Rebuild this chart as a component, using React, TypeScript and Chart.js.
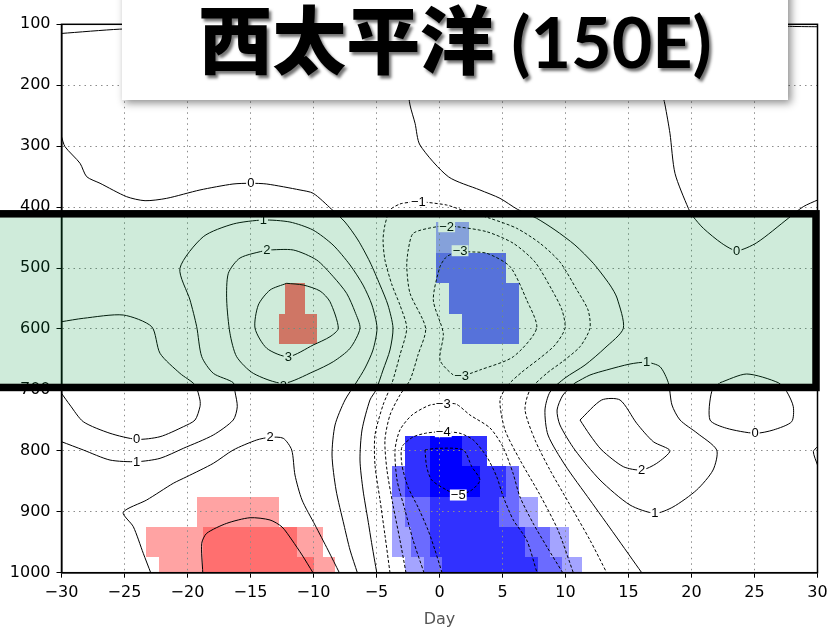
import React, { useEffect, useRef } from 'react';
import { Chart, registerables } from 'chart.js';

Chart.register(...registerables);

type Pt = [number, number];
type Cell = [number, number, number, number, number];

// ---------- axes ----------
const xTickValues = [-30, -25, -20, -15, -10, -5, 0, 5, 10, 15, 20, 25, 30];
const yTickValues = [100, 200, 300, 400, 500, 600, 700, 800, 900, 1000];
const xTitle = 'Day';
const titleCJK = '西太平洋';
const titleLatin = ' (150E)';

// ---------- contour lines (day, hPa) ----------
const cTopLeft: Pt[] = [[-30, 115], [-25.4, 108], [-20, 104.5], [-16, 102], [-12, 100.5], [-9, 100]];
const cTopRight: Pt[] = [[23.5, 100], [26, 102], [28, 103.5], [30, 104]];

const c0West: Pt[] = [[-30, 284.5], [-29.72, 300.9], [-28.53, 328.1], [-28.0, 350.1], [-26.94, 360.9], [-24.83, 382.9], [-23.37, 389.5], [-21.65, 385.6], [-19.01, 371.9], [-16.39, 362.1], [-14.98, 360.9], [-13.71, 362.1], [-11.07, 371.9], [-10.02, 377.4], [-8.56, 403.6], [-7.5, 424.5], [-6.47, 454.0], [-5.52, 490.1], [-4.72, 527.9], [-4.09, 560.7], [-3.69, 598.4], [-3.93, 634.5], [-4.48, 667.4], [-5.04, 700.2], [-5.52, 716.6], [-6.15, 765.8], [-6.31, 815.1], [-6.07, 864.3], [-5.68, 913.5], [-5.36, 954.6], [-4.98, 1000]];

const c1Main: Pt[] = [[-30, 785.0], [-28.27, 798.6], [-26.15, 815.1], [-24.03, 817.8], [-22.18, 812.3], [-20.33, 795.9], [-17.95, 774.0], [-16.37, 749.4], [-16.05, 727.6], [-16.23, 703.0], [-16.37, 688.2], [-17.95, 672.8], [-18.87, 645.5], [-19.27, 596.3], [-19.8, 552.5], [-20.6, 500.4], [-18.75, 448.6], [-16.37, 427.7], [-13.98, 421.2], [-11.87, 424.5], [-10.04, 437.6], [-8.45, 462.2], [-7.1, 495.0], [-6.07, 527.9], [-5.36, 560.7], [-4.96, 598.4], [-5.28, 634.5], [-5.91, 664.1], [-6.63, 688.7], [-7.5, 716.6], [-8.29, 757.6], [-8.53, 806.9], [-8.21, 864.3], [-7.58, 921.7], [-7.1, 962.8], [-6.52, 1000]];

const c2Loop: Pt[] = [[-13.71, 470.4], [-11.6, 470.4], [-9.75, 486.8], [-8.43, 514.2], [-7.37, 541.5], [-6.71, 571.7], [-6.31, 598.9], [-7.1, 631.8], [-8.43, 653.7], [-10.02, 670.1], [-12.4, 689.2], [-14.78, 672.8], [-16.1, 645.5], [-16.63, 607.1], [-16.89, 552.5], [-16.76, 508.7], [-15.83, 483.5], [-13.71, 470.4]];

const c3Loop: Pt[] = [[-12.13, 525.1], [-10.81, 527.9], [-9.48, 537.7], [-8.69, 555.3], [-8.03, 598.9], [-8.69, 612.7], [-10.02, 626.3], [-12.0, 645.5], [-13.71, 631.7], [-14.64, 598.9], [-14.38, 560.7], [-13.45, 536.1], [-12.13, 525.1]];

const c0LeftLoop: Pt[] = [[-30, 588.1], [-28.27, 582.5], [-25.1, 577.1], [-22.84, 596.3], [-22.18, 640.0], [-20.6, 672.8], [-19.4, 692.0], [-19.01, 716.6], [-19.01, 727.6], [-19.4, 749.4], [-20.33, 760.4], [-22.18, 776.8], [-24.03, 781.1], [-26.15, 771.2], [-28.27, 752.2], [-29.33, 724.8], [-30, 705.6]];

const c2LowerLeft: Pt[] = [[-22.92, 1000], [-23.51, 968.2], [-24.3, 924.5], [-25.1, 900.9], [-23.24, 880.7], [-21.13, 853.3], [-20.06, 842.5], [-17.95, 820.5], [-16.37, 798.6], [-14.51, 782.2], [-13.45, 777.8], [-12.4, 779.4], [-11.73, 798.6], [-11.47, 839.7], [-10.91, 880.7], [-9.88, 921.7], [-8.85, 962.8], [-7.95, 1000]];

const c3Dome: Pt[] = [[-18.79, 1000], [-18.87, 951.8], [-18.48, 935.4], [-16.89, 919.0], [-15.04, 909.8], [-13.45, 913.5], [-12.5, 924.9], [-11.71, 946.4], [-10.91, 970.9], [-10.04, 1000]];

const cM1: Pt[] = [[-3.93, 1000], [-4.33, 938.2], [-4.72, 880.7], [-5.12, 823.3], [-5.12, 774.0], [-4.48, 724.8], [-3.77, 688.7], [-3.14, 642.8], [-2.6, 598.4], [-3.14, 560.7], [-3.77, 527.9], [-4.33, 486.8], [-4.48, 454.0], [-4.33, 429.4], [-3.93, 404.8], [-3.14, 394.9], [-2.34, 392.1], [-1.68, 391.2], [-1.02, 392.1], [0.57, 396.6], [1.63, 403.6], [4.01, 418.4], [6.13, 434.8], [7.98, 459.4], [9.56, 490.1], [10.91, 536.1], [11.79, 568.9], [11.94, 598.9], [11.15, 629.1], [9.72, 654.2], [8.51, 672.8], [7.18, 700.2], [6.79, 733.0], [7.58, 782.2], [8.77, 831.5], [10.36, 888.9], [11.94, 946.4], [13.27, 1000]];

const cM2: Pt[] = [[-2.66, 1000], [-3.14, 946.4], [-3.69, 888.9], [-4.17, 831.5], [-4.33, 782.2], [-3.93, 741.2], [-3.14, 708.4], [-2.34, 683.8], [-1.71, 642.8], [-1.1, 598.9], [-2.34, 541.5], [-2.6, 497.8], [-2.48, 470.4], [-2.08, 443.0], [-0.22, 432.2], [0.57, 432.2], [1.37, 432.2], [3.75, 440.4], [5.86, 459.4], [7.58, 490.1], [8.93, 536.1], [9.72, 568.9], [9.96, 598.9], [9.17, 626.3], [7.98, 647.7], [6.55, 670.6], [5.44, 692.0], [4.8, 716.6], [5.2, 765.8], [6.39, 815.1], [7.98, 872.5], [9.4, 930.0], [10.62, 1000]];

const cM3Upper: Pt[] = [[1.63, 471.6], [0.57, 481.4], [0.04, 497.8], [-0.49, 552.5], [0.3, 607.1], [0.04, 650.9], [1.1, 675.6], [1.76, 677.2], [3.21, 667.3], [5.86, 645.5], [7.71, 598.9], [6.92, 552.5], [5.6, 497.8], [3.75, 475.8], [2.16, 473.2], [1.63, 471.6]];

const cM3Lower: Pt[] = [[-1.23, 1000], [-2.1, 946.4], [-2.74, 897.1], [-3.37, 847.9], [-3.53, 798.6], [-3.14, 765.8], [-2.18, 741.2], [-0.75, 724.8], [0.3, 723.2], [1.31, 723.2], [2.42, 741.2], [4.01, 762.5], [5.04, 793.7], [5.83, 836.4], [6.39, 875.8], [7.42, 918.5], [8.53, 957.8], [9.78, 1000]];

const cM4: Pt[] = [[0.2, 1000], [-0.36, 962.8], [-0.91, 929.9], [-1.71, 892.2], [-2.5, 859.4], [-2.98, 823.3], [-2.98, 793.7], [-2.1, 777.3], [-1.02, 770.8], [0.3, 768.6], [1.63, 771.2], [2.68, 782.2], [3.75, 809.6], [4.54, 842.5], [5.06, 875.3], [5.86, 913.5], [6.92, 946.4], [7.74, 1000]];

const cM5: Pt[] = [[-1.15, 798.6], [-0.22, 795.9], [1.89, 798.6], [2.56, 826.0], [3.21, 847.9], [2.56, 864.3], [1.49, 872.5], [0.57, 864.3], [-0.62, 847.9], [-1.02, 826.0], [-1.15, 798.6]];

const c0East: Pt[] = [[-3.0, 100], [-2.7, 180], [-2.34, 232.4], [-1.94, 262.5], [-1.55, 298.1], [0.7, 350.1], [3.21, 371.9], [4.8, 385.6], [6.18, 403.6], [7.71, 418.4], [9.17, 437.6], [10.75, 462.2], [12.21, 492.3], [13.53, 527.9], [14.09, 549.2], [14.59, 598.9], [13.13, 631.2], [11.55, 659.2], [9.96, 680.5], [8.77, 703.5], [8.37, 733.0], [8.61, 774.0], [9.96, 823.3], [11.94, 880.7], [13.93, 938.2], [16.05, 1000]];

const c1East: Pt[] = [[10.75, 688.7], [11.94, 675.6], [13.27, 667.3], [15.12, 657.5], [16.44, 654.7], [17.5, 661.9], [18.16, 688.2], [18.45, 724.8], [19.09, 749.4], [20.44, 770.8], [22.0, 798.6], [21.71, 831.5], [20.41, 864.3], [18.53, 892.2], [17.1, 902.5], [15.12, 888.9], [12.74, 847.9], [10.75, 798.6], [9.56, 757.6], [9.33, 733.0], [9.8, 708.4], [10.75, 688.7]];

const c2East: Pt[] = [[11.15, 749.4], [12.87, 716.6], [14.33, 716.6], [15.65, 754.8], [16.97, 785.0], [18.29, 799.8], [17.24, 820.5], [16.05, 831.5], [14.59, 826.0], [12.87, 798.6], [11.94, 774.0], [11.15, 749.4]];

const c0NorthEast: Pt[] = [[17.6, 100], [17.66, 207.8], [17.9, 232.4], [18.29, 278.9], [18.69, 344.6], [19.75, 402.0], [20.14, 415.8], [20.94, 434.8], [22.4, 459.4], [23.59, 471.6], [25.18, 458.4], [27.68, 418.4], [28.87, 399.3], [30, 388.4]];

const c0SouthEastLoop: Pt[] = [[22.26, 688.2], [24.38, 673.9], [26.89, 688.2], [27.56, 702.9], [28.08, 727.6], [27.95, 752.2], [26.49, 765.8], [25.04, 771.2], [22.79, 763.0], [21.47, 749.4], [21.6, 703.0], [22.26, 688.2]];

const c0EdgeWedge: Pt[] = [[30, 793.2], [29.67, 801.4], [30, 823.3]];

const contours: { level: number; pts: Pt[] }[] = [
  { level: 1, pts: cTopLeft },
  { level: 1, pts: cTopRight },
  { level: 0, pts: c0West },
  { level: 1, pts: c1Main },
  { level: 2, pts: c2Loop },
  { level: 3, pts: c3Loop },
  { level: 0, pts: c0LeftLoop },
  { level: 2, pts: c2LowerLeft },
  { level: 3, pts: c3Dome },
  { level: -1, pts: cM1 },
  { level: -2, pts: cM2 },
  { level: -3, pts: cM3Upper },
  { level: -3, pts: cM3Lower },
  { level: -4, pts: cM4 },
  { level: -5, pts: cM5 },
  { level: 0, pts: c0East },
  { level: 1, pts: c1East },
  { level: 2, pts: c2East },
  { level: 0, pts: c0NorthEast },
  { level: 0, pts: c0SouthEastLoop },
  { level: 0, pts: c0EdgeWedge },
];

// ---------- contour labels (day, hPa, text) ----------
const contourLabels: [number, number, string][] = [
  [-14.98, 360.9, '0'], [-13.98, 421.2, '1'], [-13.71, 470.4, '2'], [-12.0, 645.5, '3'], [-12.4, 693, '2'],
  [-24.03, 781.1, '0'], [-24.03, 817.8, '1'], [-13.45, 777.8, '2'],
  [-1.68, 391.2, '\u22121'], [0.57, 432.2, '\u22122'], [1.63, 471.6, '\u22123'], [1.76, 677.2, '\u22123'],
  [0.3, 723.2, '\u22123'], [0.3, 768.6, '\u22124'], [1.49, 872.5, '\u22125'],
  [23.59, 471.6, '0'], [16.44, 654.7, '1'], [16.05, 831.5, '2'], [17.1, 902.5, '1'], [25.04, 771.2, '0'],
];

// ---------- shaded cells [day0, day1, hPa0, hPa1, level] ----------
const redCells: Cell[] = [
  [-12.26, -10.67, 525, 575, 2],
  [-12.72, -9.75, 575, 625, 2],
  [-19.22, -12.74, 875, 925, 1],
  [-23.29, -18.79, 925, 975, 1],
  [-18.79, -11.29, 925, 975, 2],
  [-11.29, -9.25, 925, 975, 1],
  [-22.26, -18.79, 975, 1000, 1],
  [-18.79, -10.0, 975, 1000, 2],
  [-10.0, -8.29, 975, 1000, 1],
];
const blueCells: Cell[] = [
  [-0.28, 2.34, 425, 475, 1],
  [-0.28, 5.28, 475, 525, 2],
  [0.75, 6.31, 525, 575, 2],
  [1.79, 6.31, 575, 625, 2],
  [-2.74, -0.75, 775, 825, 3],
  [-0.75, 1.76, 775, 825, 4],
  [1.76, 3.75, 775, 825, 3],
  [-3.79, -2.74, 825, 875, 2],
  [-2.74, -0.75, 825, 875, 3],
  [-0.75, 3.21, 825, 875, 4],
  [3.21, 5.28, 825, 875, 3],
  [5.28, 6.31, 825, 875, 2],
  [-3.79, -2.74, 875, 925, 1],
  [-2.74, -0.75, 875, 925, 2],
  [-0.75, 4.72, 875, 925, 3],
  [4.72, 6.31, 875, 925, 2],
  [6.31, 7.79, 875, 925, 1],
  [-3.79, -2.26, 925, 975, 1],
  [-2.26, -0.75, 925, 975, 2],
  [-0.75, 6.79, 925, 975, 3],
  [6.79, 8.77, 925, 975, 2],
  [8.77, 10.28, 925, 975, 1],
  [-2.74, -1.23, 975, 1000, 1],
  [-1.23, 0.22, 975, 1000, 2],
  [0.22, 7.79, 975, 1000, 3],
  [7.79, 9.7, 975, 1000, 2],
  [9.7, 11.29, 975, 1000, 1],
];

// highlighted band (hPa)
const bandTop = 411;
const bandBottom = 696;

// ---------- styles ----------
const redColors: Record<number, string> = { 1: '#ffa3a3', 2: '#ff6f6f' };
const blueColors: Record<number, string> = { 1: '#a4a4ff', 2: '#6b6bff', 3: '#3131ff', 4: '#0000ff' };

const fmtTick = (v: number) => (v < 0 ? '\u2212' + Math.abs(v) : String(v));

const customPlugin = {
  id: 'custom',
  beforeDraw(chart: any) {
    const { ctx, chartArea: a, scales } = chart;
    const x = scales.x, y = scales.y;
    ctx.save();
    ctx.beginPath();
    ctx.rect(a.left, a.top, a.right - a.left, a.bottom - a.top);
    ctx.clip();
    const drawCells = (cells: Cell[], colors: Record<number, string>) => {
      for (const [d0, d1, p0, p1, lv] of cells) {
        const x0 = Math.round(x.getPixelForValue(d0));
        const x1 = Math.round(x.getPixelForValue(d1));
        const y0 = Math.round(y.getPixelForValue(p0));
        const y1 = Math.round(y.getPixelForValue(p1));
        ctx.fillStyle = colors[lv];
        ctx.fillRect(x0, y0, x1 - x0, y1 - y0);
      }
    };
    drawCells(redCells, redColors);
    drawCells(blueCells, blueColors);
    ctx.restore();
  },
  afterDatasetsDraw(chart: any) {
    const { ctx, chartArea: a, scales } = chart;
    const x = scales.x, y = scales.y;
    ctx.save();
    ctx.font = '13px "Liberation Sans", Arial, sans-serif';
    ctx.textAlign = 'center';
    ctx.textBaseline = 'middle';
    for (const [d, p, t] of contourLabels) {
      const px = x.getPixelForValue(d);
      const py = y.getPixelForValue(p);
      const w = ctx.measureText(t).width;
      ctx.fillStyle = '#fff';
      ctx.fillRect(px - w / 2 - 1, py - 5.5, w + 2, 11);
      ctx.fillStyle = '#000';
      ctx.fillText(t, px, py + 0.5);
    }
    ctx.strokeStyle = '#000';
    ctx.lineWidth = 1.5;
    ctx.strokeRect(a.left, a.top, a.right - a.left, a.bottom - a.top);
    ctx.restore();
  },
  afterDraw(chart: any) {
    const { ctx, chartArea: a, scales } = chart;
    const y = scales.y;
    // green highlight band
    const top = y.getPixelForValue(bandTop);
    const bot = y.getPixelForValue(bandBottom);
    const right = a.right - 1.5;
    ctx.save();
    ctx.fillStyle = 'rgba(0,150,60,0.19)';
    ctx.fillRect(-10, top, right + 10, bot - top);
    ctx.strokeStyle = '#000';
    ctx.lineWidth = 7.5;
    ctx.strokeRect(-10, top, right + 10, bot - top);
    ctx.restore();

    // title box
    const bx = 122, bw = 666, bh = 100;
    ctx.save();
    ctx.shadowColor = 'rgba(0,0,0,0.45)';
    ctx.shadowBlur = 8;
    ctx.shadowOffsetX = 3;
    ctx.shadowOffsetY = 3;
    ctx.fillStyle = '#ffffff';
    ctx.fillRect(bx, -20, bw, bh + 20);
    ctx.restore();

    ctx.save();
    const f1 = '900 74px "Noto Sans CJK SC"';
    const f2 = 'bold 70px Lato, "Open Sans", sans-serif';
    ctx.font = f1;
    const w1 = ctx.measureText(titleCJK).width;
    ctx.font = f2;
    const w2 = ctx.measureText(titleLatin).width;
    const total = w1 + w2;
    const sx = bx + bw / 2 - total / 2;
    const base = 68;
    ctx.shadowColor = 'rgba(0,0,0,0.55)';
    ctx.shadowBlur = 3;
    ctx.shadowOffsetX = 2.5;
    ctx.shadowOffsetY = 2.5;
    ctx.fillStyle = '#000';
    ctx.textBaseline = 'alphabetic';
    ctx.textAlign = 'left';
    ctx.font = f1;
    ctx.fillText(titleCJK, sx, base);
    ctx.font = f2;
    ctx.fillText(titleLatin, sx + w1, base);
    ctx.restore();
  },
};

export default function App() {
  const ref = useRef<HTMLCanvasElement | null>(null);
  useEffect(() => {
    document.body.style.margin = '0';
    const canvas = ref.current;
    if (!canvas) return;
    const datasets = contours.map((c) => ({
      data: c.pts.map(([d, p]) => ({ x: d, y: p })),
      showLine: true,
      borderColor: '#000',
      borderWidth: 1,
      borderDash: c.level < 0 ? [3, 2] : [],
      pointRadius: 0,
      pointHoverRadius: 0,
      tension: 0.25,
      fill: false,
    }));
    const tickFont = { family: '"DejaVu Sans", sans-serif', size: 16 };
    const chart = new Chart(canvas, {
      type: 'scatter',
      data: { datasets },
      options: {
        responsive: false,
        animation: false,
        events: [],
        devicePixelRatio: 1,
        layout: { padding: { left: 0, right: 13.5, top: 24.3, bottom: 0 } },
        plugins: { legend: { display: false }, tooltip: { enabled: false } },
        scales: {
          x: {
            type: 'linear',
            min: -30,
            max: 30,
            afterBuildTicks: (s: any) => { s.ticks = xTickValues.map((v) => ({ value: v })); },
            afterFit: (s: any) => { s.height = 54.3; s.paddingLeft = 0; s.paddingRight = 0; },
            ticks: { callback: (v: any) => fmtTick(Number(v)), color: '#000', font: tickFont, padding: 6, maxRotation: 0, autoSkip: false },
            grid: { color: '#8c8c8c', lineWidth: 1, tickColor: '#000', tickLength: 5, tickWidth: 1 },
            border: { display: true, color: '#000', width: 1.5, dash: [1.5, 4] },
            title: { display: true, text: xTitle, color: '#555', font: { family: '"DejaVu Sans", sans-serif', size: 16 }, padding: { top: 0, bottom: -2 } },
          },
          y: {
            type: 'linear',
            reverse: true,
            min: 100,
            max: 1000,
            afterBuildTicks: (s: any) => { s.ticks = yTickValues.map((v) => ({ value: v })); },
            afterFit: (s: any) => { s.width = 61.5; s.paddingTop = 0; s.paddingBottom = 0; },
            ticks: { callback: (v: any) => fmtTick(Number(v)), color: '#000', font: tickFont, padding: 6, autoSkip: false },
            grid: { color: '#8c8c8c', lineWidth: 1, tickColor: '#000', tickLength: 5, tickWidth: 1 },
            border: { display: true, color: '#000', width: 1.5, dash: [1.5, 4] },
          },
        },
      },
      plugins: [customPlugin],
    } as any);
    return () => chart.destroy();
  }, []);
  return <canvas ref={ref} width={831} height={627} style={{ display: 'block' }} />;
}
